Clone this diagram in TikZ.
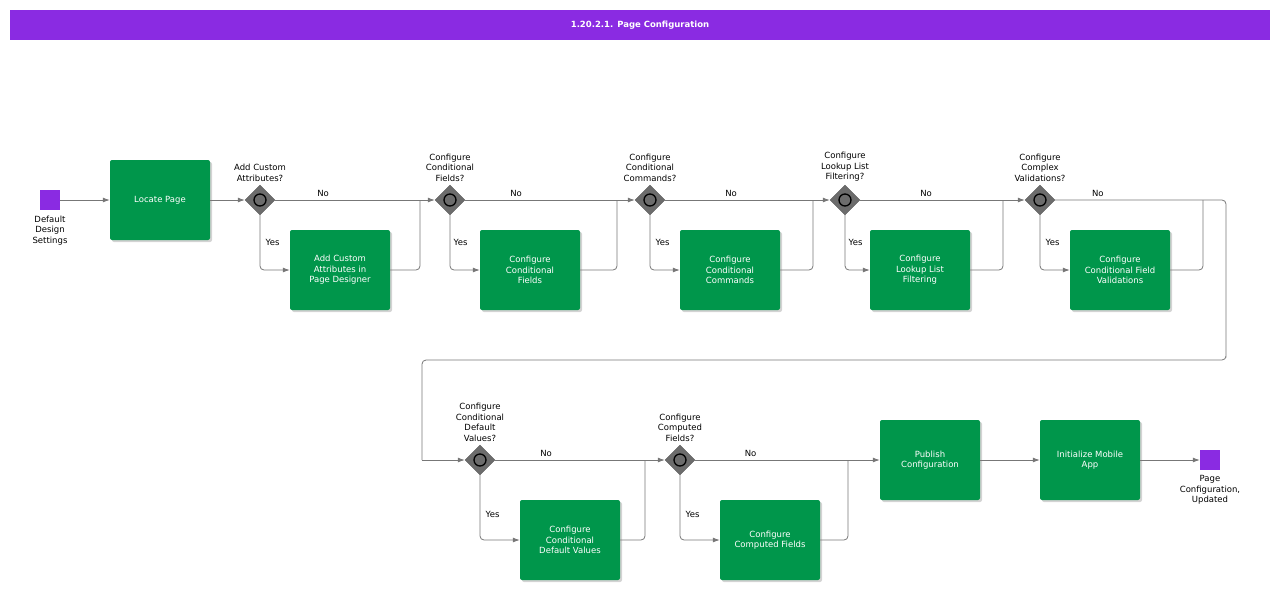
\documentclass[tikz,border=0pt]{standalone}
\usepackage{fontspec}
\setmainfont{DejaVu Sans}
\usetikzlibrary{shapes.geometric, shadows, arrows.meta, positioning}
\definecolor{barpurple}{HTML}{8A2BE2}
\definecolor{taskgreen}{HTML}{00964B}
\definecolor{flowgray}{HTML}{777777}

\begin{document}
\begin{tikzpicture}[x=1pt, y=-1pt,
    task/.style={rectangle, rounded corners=2pt, fill=taskgreen, text=white,
                 minimum width=100pt, minimum height=80pt, align=center,
                 font=\fontsize{8.5}{10.5}\selectfont,
                 drop shadow={shadow xshift=2pt, shadow yshift=-2pt, opacity=0.35}},
    gate/.style={diamond, fill=gray!85!black, draw=gray!70!black, minimum size=30pt, inner sep=0pt},
    ring/.style={circle, draw=black, line width=1.3pt, fill=gray!85!black, minimum size=12pt, inner sep=0pt},
    event/.style={rectangle, fill=barpurple, minimum size=20pt, inner sep=0pt},
    lbl/.style={align=center, font=\fontsize{8.5}{10.5}\selectfont},
    flow/.style={draw=flowgray, line width=0.8pt, rounded corners=4pt, -{Latex[length=7pt,width=5pt]}},
    line/.style={draw=flowgray, line width=0.8pt, rounded corners=4pt}
]
    \useasboundingbox (0,0) rectangle (1280,590);

    % Title bar
    \node at (640,25) [fill=barpurple, minimum width=1260pt, minimum height=30pt,
                       text=white, font=\bfseries\fontsize{8.5}{10}\selectfont] (title) {1.20.2.1. Page Configuration};

    % Upper row
    \node at (50,200) [event] (start) {};
    \node [lbl, below=2pt of start] {Default\\Design\\Settings};
    \node at (160,200) [task] (locate) {Locate Page};

    \node at (260,200) [gate] (g1) {};
    \node at (450,200) [gate] (g2) {};
    \node at (650,200) [gate] (g3) {};
    \node at (845,200) [gate] (g4) {};
    \node at (1040,200) [gate] (g5) {};
    \foreach \g in {g1,g2,g3,g4,g5} \node at (\g) [ring] {};

    \node [lbl, above=0pt of g1] {Add Custom\\Attributes?};
    \node [lbl, above=0pt of g2] {Configure\\Conditional\\Fields?};
    \node [lbl, above=0pt of g3] {Configure\\Conditional\\Commands?};
    \node [lbl, above=0pt of g4] {Configure\\Lookup List\\Filtering?};
    \node [lbl, above=0pt of g5] {Configure\\Complex\\Validations?};

    \node at (340,270) [task] (custom) {Add Custom\\Attributes in\\Page Designer};
    \node at (530,270) [task] (fields) {Configure\\Conditional\\Fields};
    \node at (730,270) [task] (commands) {Configure\\Conditional\\Commands};
    \node at (920,270) [task] (lookup) {Configure\\Lookup List\\Filtering};
    \node at (1120,270) [task] (valid) {Configure\\Conditional Field\\Validations};

    % Lower row
    \node at (480,460) [gate] (g6) {};
    \node at (680,460) [gate] (g7) {};
    \foreach \g in {g6,g7} \node at (\g) [ring] {};
    \node [lbl, above=0pt of g6] {Configure\\Conditional\\Default\\Values?};
    \node [lbl, above=0pt of g7] {Configure\\Computed\\Fields?};

    \node at (570,540) [task] (defaults) {Configure\\Conditional\\Default Values};
    \node at (770,540) [task] (computed) {Configure\\Computed Fields};
    \node at (930,460) [task] (publish) {Publish\\Configuration};
    \node at (1090,460) [task] (mobile) {Initialize Mobile\\App};
    \node at (1210,460) [event] (finish) {};
    \node [lbl, below=2pt of finish] {Page\\Configuration,\\Updated};

    % Merge points
    \coordinate (m1) at (420,200);
    \coordinate (m2) at (617,200);
    \coordinate (m3) at (813,200);
    \coordinate (m4) at (1003,200);
    \coordinate (m5) at (1203,200);
    \coordinate (m6) at (645,460);
    \coordinate (m7) at (848,460);
    \coordinate (turn) at (1226,360);
    \coordinate (back) at (422,460);

    % Connectors
    \draw[flow] (start) -- (locate);
    \draw[flow] (locate) -- (g1);
    \draw[flow] (g1) -- node[lbl, above, pos=0.3] {No} (g2);
    \draw[flow] (g2) -- node[lbl, above, pos=0.3] {No} (g3);
    \draw[flow] (g3) -- node[lbl, above, pos=0.4] {No} (g4);
    \draw[flow] (g4) -- node[lbl, above, pos=0.4] {No} (g5);
    \draw[flow] (g1.south) |- node[lbl, pos=0.25, right=2pt] {Yes} (custom.west);
    \draw[flow] (g2.south) |- node[lbl, pos=0.25, right=0pt] {Yes} (fields.west);
    \draw[flow] (g3.south) |- node[lbl, pos=0.25, right=2pt] {Yes} (commands.west);
    \draw[flow] (g4.south) |- node[lbl, pos=0.25, right=0pt] {Yes} (lookup.west);
    \draw[flow] (g5.south) |- node[lbl, pos=0.25, right=2pt] {Yes} (valid.west);
    \draw[line] (custom.east) -| (m1);
    \draw[line] (fields.east) -| (m2);
    \draw[line] (commands.east) -| (m3);
    \draw[line] (lookup.east) -| (m4);
    \draw[line] (valid.east) -| (m5);
    \draw[line] (g5.east) -- node[lbl, above, pos=0.25] {No} (1226,200) |- (turn) -| (back);
    \draw[flow] (back) -- (g6);
    \draw[flow] (g6) -- node[lbl, above, pos=0.3] {No} (g7);
    \draw[flow] (g7) -- node[lbl, above, pos=0.3] {No} (publish);
    \draw[flow] (g6.south) |- node[lbl, pos=0.3, right=2pt] {Yes} (defaults.west);
    \draw[flow] (g7.south) |- node[lbl, pos=0.3, right=2pt] {Yes} (computed.west);
    \draw[line] (defaults.east) -| (m6);
    \draw[line] (computed.east) -| (m7);
    \draw[flow] (publish) -- (mobile);
    \draw[flow] (mobile) -- (finish);
\end{tikzpicture}
\end{document}
